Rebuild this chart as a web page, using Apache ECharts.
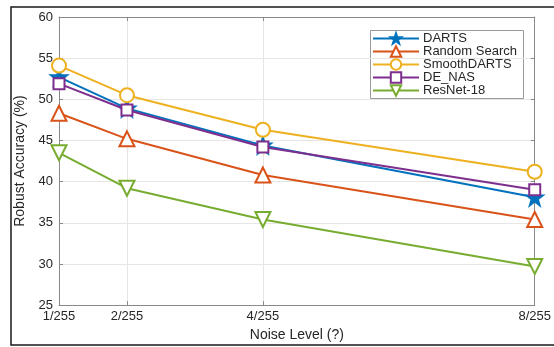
<!DOCTYPE html>
<html>
<head>
<meta charset="utf-8">
<script src="https://cdn.jsdelivr.net/npm/echarts@6/dist/echarts.min.js"></script>
<style>
html,body{margin:0;padding:0;background:#fff;}
#c{width:554px;height:347px;}
</style>
</head>
<body>
<div id="c"></div>
<script>
// Noise levels (numerator of k/255)
var noiseLevels = [1, 2, 4, 8];
var xTickLabels = ['1/255', '2/255', '4/255', '8/255'];
var yTicks = [25, 30, 35, 40, 45, 50, 55, 60];

var seriesNames = ['DARTS', 'Random Search', 'SmoothDARTS', 'DE_NAS', 'ResNet-18'];
var dartsValues = [52.7, 48.9, 44.4, 38.1];
var randomSearchValues = [48.3, 45.2, 40.8, 35.4];
var smoothDartsValues = [54.1, 50.5, 46.3, 41.2];
var deNasValues = [51.9, 48.7, 44.2, 39.0];
var resnetValues = [43.5, 39.2, 35.4, 29.7];

var colors = ['#0072BD', '#D95319', '#EDB120', '#7E2F8E', '#77AC30'];
var star = 'path://M50,0 L61.8,35.1 L98.1,35.1 L68.8,56.8 L79.4,91 L50,70 L20.6,91 L31.2,56.8 L1.9,35.1 L38.2,35.1 Z';

function pairs(vals) { return noiseLevels.map(function (x, i) { return [x, vals[i]]; }); }

var allValues = [dartsValues, randomSearchValues, smoothDartsValues, deNasValues, resnetValues];
var symbols = [star, 'emptyTriangle', 'emptyCircle', 'emptyRect', 'emptyTriangle'];
var sizes = [16, 15, 14, 11, 15];
var rotates = [0, 0, 0, 0, 180];

var font = 'Liberation Sans, Arial, Helvetica, sans-serif';
var axisGrey = '#8a8a8a';
var textCol = '#262626';

var chart = echarts.init(document.getElementById('c'), null, {renderer: 'canvas'});
var option = {
  animation: false,
  backgroundColor: '#fff',
  grid: {left: 59, right: 12, top: 17, bottom: 40, containLabel: false},
  xAxis: [
    {
      type: 'value', min: 1, max: 8, interval: 1, position: 'bottom',
      name: 'Noise Level (?)', nameLocation: 'middle', nameGap: 20,
      nameTextStyle: {fontFamily: font, fontSize: 14, color: textCol},
      axisLine: {show: true, lineStyle: {color: axisGrey, width: 1}},
      axisTick: {show: true, inside: true, length: 4, customValues: noiseLevels, lineStyle: {color: axisGrey}},
      axisLabel: {show: true, customValues: noiseLevels, margin: 5, fontFamily: font, fontSize: 13, color: textCol,
        formatter: function (v) { var i = noiseLevels.indexOf(v); return i >= 0 ? xTickLabels[i] : ''; }},
      splitLine: {show: false}
    },
    {
      type: 'value', min: 1, max: 8, interval: 1, position: 'top',
      axisLine: {show: true, lineStyle: {color: axisGrey, width: 1}},
      axisTick: {show: true, inside: true, length: 4, customValues: noiseLevels, lineStyle: {color: axisGrey}},
      axisLabel: {show: false},
      splitLine: {show: false}
    },
    {
      type: 'value', min: 1, max: 8, interval: 1, position: 'bottom', show: true,
      axisLine: {show: false}, axisTick: {show: false}, axisLabel: {show: false},
      splitLine: {show: true, lineStyle: {width: 1, color: ['rgba(0,0,0,0)', '#e6e6e6', 'rgba(0,0,0,0)', '#e6e6e6', 'rgba(0,0,0,0)', 'rgba(0,0,0,0)', 'rgba(0,0,0,0)', 'rgba(0,0,0,0)']}}
    }
  ],
  yAxis: [
    {
      type: 'value', min: yTicks[0], max: yTicks[yTicks.length - 1], interval: 5, position: 'left',
      name: 'Robust Accuracy (%)', nameLocation: 'middle', nameGap: 26,
      nameTextStyle: {fontFamily: font, fontSize: 14, color: textCol},
      axisLine: {show: true, lineStyle: {color: axisGrey, width: 1}},
      axisTick: {show: true, inside: true, length: 4, lineStyle: {color: axisGrey}},
      axisLabel: {show: true, margin: 6, fontFamily: font, fontSize: 13, color: textCol},
      splitLine: {show: true, lineStyle: {color: '#e6e6e6', width: 1}}
    },
    {
      type: 'value', min: yTicks[0], max: yTicks[yTicks.length - 1], interval: 5, position: 'right',
      axisLine: {show: true, lineStyle: {color: axisGrey, width: 1}},
      axisTick: {show: true, inside: true, length: 4, lineStyle: {color: axisGrey}},
      axisLabel: {show: false},
      splitLine: {show: false}
    }
  ],
  legend: {
    orient: 'vertical', left: 372, top: 32, padding: 0, itemGap: 0,
    itemWidth: 46, itemHeight: 13,
    textStyle: {fontFamily: font, fontSize: 13, color: textCol, padding: [0, 0, 0, -1]},
    data: seriesNames
  },
  graphic: [
    {type: 'rect', shape: {x: 11, y: 7, width: 620, height: 338}, style: {fill: 'none', stroke: '#1a1a1a', lineWidth: 1.5}, silent: true, z: 100},
    {type: 'rect', shape: {x: 370.5, y: 30.5, width: 153, height: 68}, style: {fill: '#fff', stroke: '#9a9a9a', lineWidth: 1}, silent: true, z: 0, zlevel: 0}
  ],
  series: seriesNames.map(function (n, i) {
    return {
      name: n, type: 'line', xAxisIndex: 0, yAxisIndex: 0,
      data: pairs(allValues[i]),
      symbol: symbols[i], symbolSize: sizes[i], symbolRotate: rotates[i],
      showAllSymbol: true,
      lineStyle: {color: colors[i], width: 2},
      itemStyle: {color: colors[i], borderColor: colors[i], borderWidth: 2},
      z: 3 + i
    };
  })
};
chart.setOption(option);
</script>
</body>
</html>
